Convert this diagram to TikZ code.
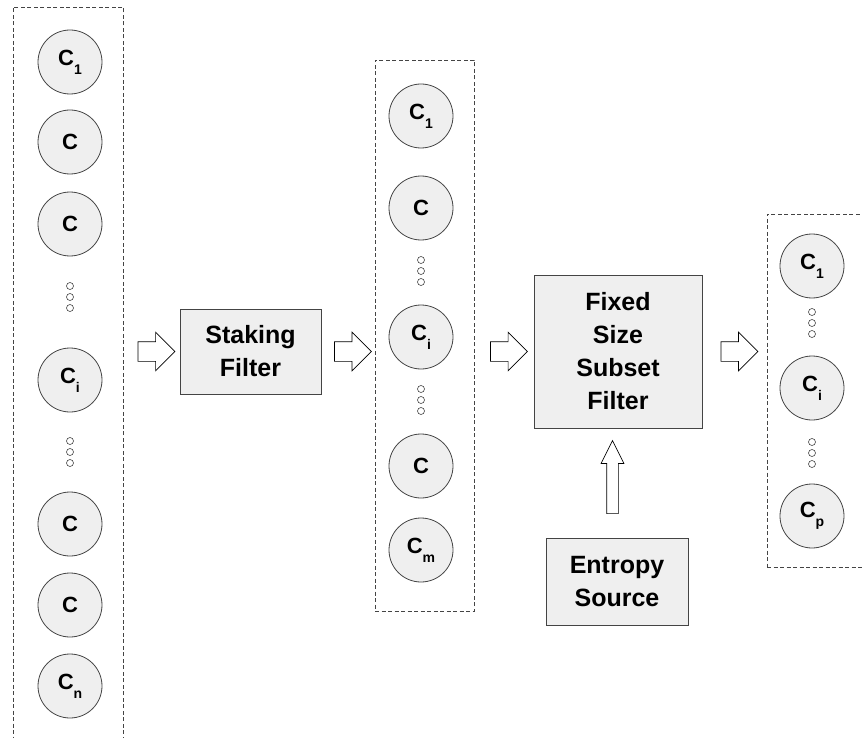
\documentclass[tikz,border=0pt]{standalone}
\usepackage{fontspec}
\setmainfont{Liberation Sans}
\usetikzlibrary{shapes.arrows,calc}
\definecolor{boxgray}{HTML}{EFEFEF}
\definecolor{edgegray}{HTML}{444444}
\newcommand{\csub}[1]{C\raisebox{-0.75ex}{\fontsize{14}{14}\selectfont #1}}
\begin{document}
\begin{tikzpicture}[x=1pt,y=-1pt,
  every node/.style={font=\fontsize{25}{33}\selectfont\bfseries},
  cand/.style={draw=edgegray,fill=boxgray,circle,minimum size=64pt,inner sep=0pt,line width=0.8pt,font=\fontsize{22}{22}\selectfont\bfseries},
  filterbox/.style={draw=edgegray,fill=boxgray,align=center,line width=0.8pt,inner sep=0pt},
  pool/.style={draw=edgegray,dash pattern=on 4pt off 2.5pt,line width=0.9pt,inner sep=0pt},
  blockarrow/.style={single arrow,draw=black,fill=white,line width=0.7pt,inner sep=0pt,inner ysep=9.5pt,minimum height=37pt,single arrow head extend=9.5pt,single arrow tip angle=90}]
\clip (0,0) rectangle (862,738);

\node[pool,minimum width=110pt,minimum height=760pt] (poolA) at (68,387) {};
\node[pool,minimum width=99pt,minimum height=551pt] (poolB) at (424.5,335.5) {};
\node[pool,minimum width=133pt,minimum height=353pt] (poolC) at (833.5,390.5) {};

\node[cand] (a1) at (70,62) {\csub{1}};
\node[cand] (a2) at (70,142) {C};
\node[cand] (a3) at (70,224) {C};
\node[cand] (ai) at (70,380) {\csub{i}};
\node[cand] (a4) at (70,524) {C};
\node[cand] (a5) at (70,605) {C};
\node[cand] (an) at (70,686) {\csub{n}};

\node[cand] (b1) at (421,116) {\csub{1}};
\node[cand] (b2) at (421,208) {C};
\node[cand] (bi) at (421,337) {\csub{i}};
\node[cand] (b3) at (421,466) {C};
\node[cand] (bm) at (421,550) {\csub{m}};

\node[cand] (c1) at (812,266) {\csub{1}};
\node[cand] (ci) at (812,388) {\csub{i}};
\node[cand] (cp) at (812,516) {\csub{p}};

\foreach \x/\y in {70/297,70/452,421/271,421/400,812/323,812/453}
  \foreach \d in {-11,0,11}
    \draw[edgegray,line width=0.6pt] (\x,\y+\d) circle (3.5pt);

\node[filterbox,minimum width=141pt,minimum height=85pt] (stake) at (250.5,351.5) {Staking\\Filter};
\node[filterbox,minimum width=168pt,minimum height=153pt] (fixed) at (618,351.5) {Fixed\\Size\\Subset\\Filter};
\node[filterbox,minimum width=142pt,minimum height=87pt] (entropy) at (617,581.5) {Entropy\\Source};

\node[blockarrow] (arrA) at ($(poolA.east |- stake.west)!0.5!(stake.west)$) {};
\node[blockarrow] (arrB) at ($(stake.east)!0.5!(poolB.west |- stake.east)$) {};
\node[blockarrow] (arrC) at ($(poolB.east |- fixed.west)!0.5!(fixed.west)$) {};
\node[blockarrow] (arrD) at ($(fixed.east)!0.5!(poolC.west |- fixed.east)$) {};
\node[blockarrow,shape border rotate=90,inner ysep=5.5pt,inner xsep=5.5pt,minimum height=73pt,single arrow head extend=5.5pt,single arrow tip angle=53,xshift=-5pt] (arrE) at ($(entropy.north)!0.5!(fixed.south)$) {};
\end{tikzpicture}
\end{document}
